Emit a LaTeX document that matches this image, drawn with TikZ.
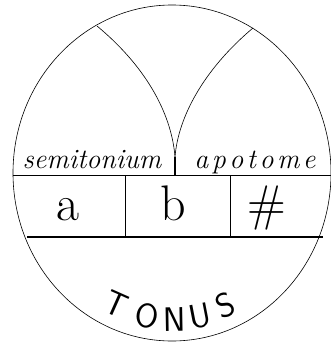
\documentclass[tikz,border=0pt]{standalone}
\usepackage{fontspec}
\usetikzlibrary{calc}

\begin{document}
\begin{tikzpicture}[
    x=1pt, y=1pt,
    rim/.style={draw, line width=0.6pt},
    rule/.style={draw, line width=0.6pt},
    bar/.style={draw, line width=1.3pt},
    word/.style={anchor=base, inner sep=0pt, font=\fontsize{28}{28}\selectfont\itshape},
    sign/.style={anchor=base, inner sep=0pt, font=\fontsize{50}{50}\selectfont},
    letter/.style={inner sep=0pt, font=\fontsize{34}{34}\selectfont\sffamily},
  ]
    \useasboundingbox (0,0) rectangle (331,-345);

    \coordinate (O) at (172,-173);
    \coordinate (tl) at (97,-26);
    \coordinate (tr) at (253,-28);
    \coordinate (cusp) at (175,-157);
    \coordinate (foot) at (175,-175);

    % the circle
    \draw[rim] (O) ellipse [x radius=159pt, y radius=168pt];

    % the band
    \coordinate (bandl) at (13,-175);
    \coordinate (bandr) at (331,-175);
    \coordinate (basel) at (27,-237);
    \coordinate (baser) at (323,-237);
    \draw[rule] (bandl) -- (bandr);
    \draw[bar] (basel) -- (baser);
    \draw[rule] (125,-175) -- (125,-237);
    \draw[rule] (230,-175) -- (230,-237);

    % the two arcs
    \draw[rule] (tl) .. controls (150,-70) and (172,-118) .. (cusp);
    \draw[rule] (tr) .. controls (203,-70) and (178,-118) .. (cusp);
    \draw[line width=1.6pt] (cusp) -- (foot);

    \node[word] (semi) at (92,-168) {semitonium};
    \node[word] (apo) at (255,-168)
      {a\kern3.5pt p\kern3.5pt o\kern3.5pt t\kern3.5pt o\kern3.5pt m\kern3.5pt e};

    \node[sign] (a) at (68,-220) {a};
    \node[sign] (b) at (173,-220) {b};
    \node[sign] (sharp) at (267,-220) {\#};

    % TONUS
    \node[letter, rotate=-24] (t1) at ($(O)+(247:143pt)$) {T};
    \node[letter, rotate=-10] (t2) at ($(O)+(260:145pt)$) {O};
    \node[letter, rotate=1] (t3) at ($(O)+(271:147pt)$) {N};
    \node[letter, rotate=11] (t4) at ($(O)+(281:146pt)$) {U};
    \node[letter, rotate=22] (t5) at ($(O)+(292:143pt)$) {S};
\end{tikzpicture}
\end{document}
